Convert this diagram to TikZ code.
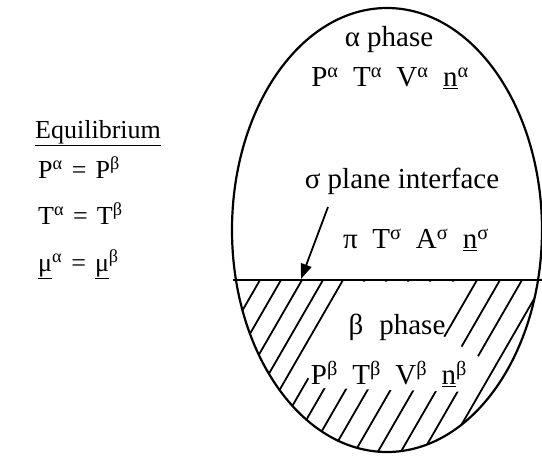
\documentclass[tikz,border=0pt]{standalone}
\usepackage{fontspec}
\setmainfont{Liberation Serif}
\usetikzlibrary{arrows.meta}
\begin{document}
\begin{tikzpicture}[x=1pt,y=-1pt,
  lbl/.style={inner sep=0pt,font=\fontsize{29}{34}\selectfont},
  eq/.style={inner sep=0pt,anchor=west,font=\fontsize{26}{30}\selectfont},
  hatch/.style={line width=1.8pt},
  bound/.style={line width=2.2pt}]
\useasboundingbox (0,0) rectangle (542,456);
\clip (0,0) rectangle (542,456);
\coordinate (C) at (387,230);
% hatching of beta phase
\begin{scope}
  \clip (C) ellipse [x radius=155, y radius=222];
  \clip (0,280) rectangle (542,456);
  \foreach \t in {260,281,302,323,343,365,387,409,431,454,477,500,522,545}
    \draw[hatch] (\t,280) -- ++({-0.577*220},220);
\end{scope}
\fill[white] (352,281.5) -- (472,281.5) -- (441,335) -- (488,362)
  -- (470,392) -- (320,388) -- (300,371) -- cycle;
% outline and interface
\draw[bound] (C) ellipse [x radius=155, y radius=222];
\coordinate (L1) at (233,280);
\coordinate (L2) at (542,280);
\draw[bound] (L1) -- (L2);
% labels inside
\node[lbl] (aph) at (389,40) {α phase};
\node[lbl] (avars) at (390,78) {P\textsuperscript{α}\hspace{0.5em}T\textsuperscript{α}\hspace{0.5em}V\textsuperscript{α}\hspace{0.5em}\underline{n}\textsuperscript{α}};
\node[lbl] (sig) at (402,181) {σ plane interface};
\node[lbl] (svars) at (416,240) {π\hspace{0.5em}T\textsuperscript{σ}\hspace{0.5em}A\textsuperscript{σ}\hspace{0.5em}\underline{n}\textsuperscript{σ}};
\node[lbl] (bph) at (397,327) {β\hspace{0.55em}phase};
\node[lbl] (bvars) at (389,374) {P\textsuperscript{β}\hspace{0.5em}T\textsuperscript{β}\hspace{0.5em}V\textsuperscript{β}\hspace{0.5em}\underline{n}\textsuperscript{β}};
% arrow to the interface
\coordinate (arrS) at (328,207);
\coordinate (arrE) at (301,279);
\draw[line width=1.8pt,-{Triangle[length=15pt,width=11pt]}] (arrS) -- (arrE);
% equilibrium conditions
\node[eq] (eqt) at (35,133) {\underline{Equilibrium}};
\node[eq] (e1) at (38,168) {P\textsuperscript{α}\hspace{0.35em}=\hspace{0.35em}P\textsuperscript{β}};
\node[eq] (e2) at (38,214) {T\textsuperscript{α}\hspace{0.35em}=\hspace{0.35em}T\textsuperscript{β}};
\node[eq] (e3) at (38,264) {\underline{μ}\textsuperscript{α}\hspace{0.35em}=\hspace{0.35em}\underline{μ}\textsuperscript{β}};
\end{tikzpicture}
\end{document}
